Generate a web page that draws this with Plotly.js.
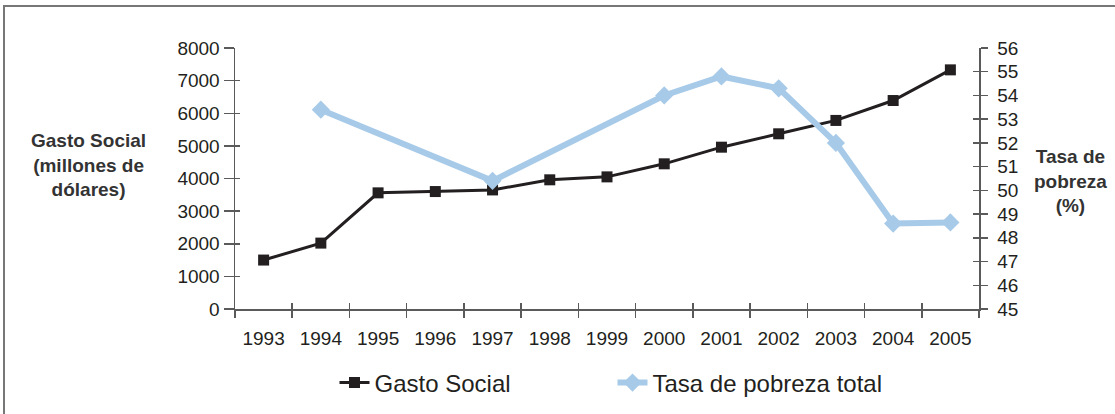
<!DOCTYPE html>
<html>
<head>
<meta charset="utf-8">
<script src="https://cdn.plot.ly/plotly-3.0.1.min.js"></script>
<style>
  html, body { margin: 0; padding: 0; background: #fff; }
  #wrap { position: relative; width: 1115px; height: 414px; overflow: hidden; }
  #chart { position: absolute; left: 0; top: 0; width: 1115px; height: 414px; }
  #frame { position: absolute; left: 3px; top: 5px; width: 1130px; height: 430px;
           border-top: 2px solid #777; border-left: 2px solid #777; pointer-events: none; }
</style>
</head>
<body>
<div id="wrap">
  <div id="chart"></div>
  <div id="frame"></div>
</div>
<script>
const years = ['1993','1994','1995','1996','1997','1998','1999','2000','2001','2002','2003','2004','2005'];
const gastoSocial = [1500, 2020, 3560, 3600, 3650, 3960, 4050, 4450, 4960, 5370, 5780, 6390, 7330];
const tasaPobreza = [null, 53.4, null, null, 50.4, null, null, 54.0, 54.8, 54.3, 52.0, 48.6, 48.65];
const leftTicks = [0, 1000, 2000, 3000, 4000, 5000, 6000, 7000, 8000];
const rightTicks = [45, 46, 47, 48, 49, 50, 51, 52, 53, 54, 55, 56];

const FONT = 'Liberation Sans, Arial, sans-serif';
const TXT = '#231f20';
const AX = '#5a5a5a';
const yearIndex = years.map((_, i) => i);

const traces = [
  // helper (invisible) traces so the overlay axes that draw the crossing tick halves exist
  { x: years, y: gastoSocial, xaxis: 'x', yaxis: 'y3', type: 'scatter', mode: 'none', showlegend: false, hoverinfo: 'skip' },
  { x: years, y: tasaPobreza, xaxis: 'x', yaxis: 'y4', type: 'scatter', mode: 'none', showlegend: false, hoverinfo: 'skip' },
  { x: yearIndex, y: gastoSocial, xaxis: 'x2', yaxis: 'y', type: 'scatter', mode: 'none', showlegend: false, hoverinfo: 'skip' },
  {
    x: years, y: gastoSocial, name: 'Gasto Social', type: 'scatter', mode: 'lines+markers',
    yaxis: 'y', xaxis: 'x',
    line: { color: '#231f20', width: 3 },
    marker: { symbol: 'square', size: 11, color: '#231f20' }
  },
  {
    x: years, y: tasaPobreza, name: 'Tasa de pobreza total', type: 'scatter', mode: 'lines+markers',
    yaxis: 'y2', xaxis: 'x', connectgaps: true,
    line: { color: '#a7cae8', width: 6 },
    marker: { symbol: 'diamond', size: 14, color: '#a7cae8' }
  }
];

const layout = {
  width: 1115, height: 414,
  margin: { l: 235, r: 136, t: 48, b: 105, autoexpand: false },
  paper_bgcolor: '#fff', plot_bgcolor: '#fff',
  font: { family: FONT, color: TXT, size: 19 },
  showlegend: true,
  legend: {
    orientation: 'h', xref: 'container', yref: 'container',
    x: 0.30, xanchor: 'left', y: 0.075, yanchor: 'middle',
    font: { family: FONT, size: 24, color: TXT },
    entrywidthmode: 'pixels', entrywidth: 233,
    bgcolor: 'rgba(0,0,0,0)'
  },
  xaxis: {
    type: 'category', range: [-0.5, 12.5], tickson: 'boundaries',
    showline: true, linecolor: AX, linewidth: 1.5,
    ticks: 'outside', ticklen: 7, tickcolor: AX, tickwidth: 1.5,
    showgrid: false, zeroline: false, ticklabelstandoff: 12,
    tickfont: { family: FONT, size: 19, color: TXT }, fixedrange: true
  },
  xaxis2: {
    overlaying: 'x', anchor: 'y', side: 'bottom', type: 'linear', range: [-0.5, 12.5],
    tickmode: 'linear', tick0: -0.5, dtick: 1, ticks: 'inside', ticklen: 6, tickcolor: AX, tickwidth: 1.5,
    showticklabels: false, showline: false, showgrid: false, zeroline: false
  },
  yaxis: {
    range: [0, 8000], tickvals: leftTicks, ticktext: leftTicks.map(String),
    showline: true, linecolor: AX, linewidth: 1.5,
    ticks: 'outside', ticklen: 10, tickcolor: AX, tickwidth: 1.5,
    showgrid: false, zeroline: false,
    tickfont: { family: FONT, size: 19, color: TXT }
  },
  yaxis3: {
    overlaying: 'y', anchor: 'x', side: 'left', range: [0, 8000], tickvals: leftTicks,
    ticks: 'inside', ticklen: 5, tickcolor: AX, tickwidth: 1.5,
    showticklabels: false, showline: false, showgrid: false, zeroline: false
  },
  yaxis2: {
    overlaying: 'y', side: 'right', anchor: 'x', range: [45, 56], tickvals: rightTicks,
    showline: true, linecolor: AX, linewidth: 1.5,
    ticks: 'outside', ticklen: 7, tickcolor: AX, tickwidth: 1.5,
    showgrid: false, zeroline: false, ticklabelstandoff: 6,
    tickfont: { family: FONT, size: 19, color: TXT }
  },
  yaxis4: {
    overlaying: 'y', anchor: 'x', side: 'right', range: [45, 56], tickvals: rightTicks,
    ticks: 'inside', ticklen: 6, tickcolor: AX, tickwidth: 1.5,
    showticklabels: false, showline: false, showgrid: false, zeroline: false
  },
  annotations: [
    {
      xref: 'paper', yref: 'paper', x: -0.197, y: 0.55, xanchor: 'center', yanchor: 'middle',
      text: '<b>Gasto Social<br>(millones de<br>dólares)</b>', showarrow: false, align: 'center',
      font: { family: FONT, size: 19, color: '#333' }
    },
    {
      xref: 'paper', yref: 'paper', x: 1.123, y: 0.49, xanchor: 'center', yanchor: 'middle',
      text: '<b>Tasa de<br>pobreza<br>(%)</b>', showarrow: false, align: 'center',
      font: { family: FONT, size: 19, color: '#333' }
    }
  ]
};

Plotly.newPlot('chart', traces, layout, { staticPlot: true, displayModeBar: false });
</script>
</body>
</html>
